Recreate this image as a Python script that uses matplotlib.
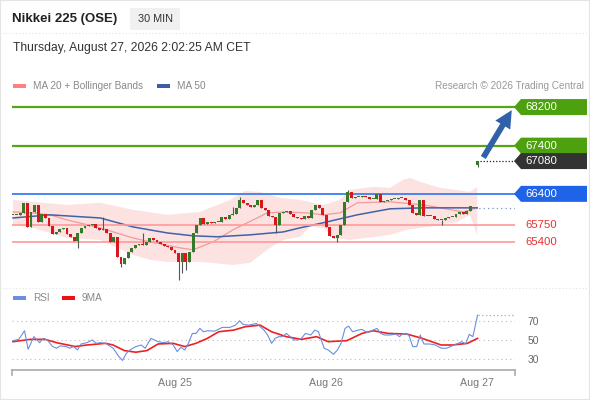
import numpy as np
import matplotlib.pyplot as plt
from matplotlib.patches import Polygon, Rectangle, FancyArrowPatch
from matplotlib.lines import Line2D

plt.rcParams['font.family'] = ['Liberation Sans', 'DejaVu Sans']

W, H = 590, 400

# 30 min candles, index = bar slot (slot 128 is empty, the gap before the last bar)
closes = [
    65965, 65965, 66005, 66215, 65715, 66025, 66170, 65820, 65985, 65900,
    65735, 65570, 65610, 65675, 65695, 65570, 65510, 65425, 65590, 65695,
    65735, 65755, 65780, 65695, 65655, 65675, 65590, 65405, 65510, 65095,
    64945, 65070, 65195, 65280, 65340, 65365, 65340, 65405, 65485, 65445,
    65405, 65365, 65320, 65300, 65240, 65175, 64990, 65175, 64990, 65195,
    65590, 65755, 65900, 65780, 65820, 65800, 65820, 65820, 65925, 65880,
    65965, 65985, 66110, 66275, 66215, 66170, 66130, 66170, 66275, 66110,
    66070, 65945, 65925, 65755, 66005, 66025, 66045, 65985, 65925, 65900,
    65880, 65945, 65900, 66070, 66170, 66110, 65965, 65715, 65530, 65485,
    65550, 65755, 66235, 66440, 66315, 66340, 66340, 66360, 66340, 66295,
    66295, 66400, 66235, 66255, 66275, 66295, 66295, 66315, 66315, 66275,
    66170, 66005, 65965, 66275, 65945, 65945, 65945, 65880, 65860, 65860,
    65900, 65925, 65925, 65985, 66025, 65985, 66045, 66150,
]
first_open = 65960
last_bar = dict(i=129, o=67000, h=67090, l=66950, c=67080)
long_highs = {25: 65925, 36: 65590, 61: 66130, 63: 66340, 93: 66485}
long_lows = {18: 65280, 30: 64885, 46: 64615, 47: 64760, 48: 64825,
             73: 65590, 90: 65405, 119: 65755}

# indicators, read as (bar index, value)
ma50_i = [0, 10.3, 24.2, 33.3, 42.8, 50, 56.7, 65.8, 75, 79.7, 86.1, 95.6, 104.7, 113.9, 123.3, 128.9]
ma50_v = [65900, 65965, 65900, 65715, 65590, 65530, 65510, 65550, 65610, 65695, 65800, 65965,
          66090, 66110, 66110, 66110]
ma20_i = [0, 5.6, 10.3, 15, 24.2, 33.3, 38.1, 46.4, 50, 55.6, 61.1, 66.7, 70.6, 75, 81.7, 86.1,
          90.8, 95.6, 104.7, 113.9, 118.6, 125, 128.9]
ma20_v = [66025, 66005, 65965, 65860, 65695, 65485, 65405, 65280, 65240, 65405, 65655, 65860,
          66005, 66025, 66005, 65965, 66005, 66215, 66235, 66170, 66110, 66025, 66110]
bb_up_i = [0, 5.6, 15, 24.2, 33.3, 42.8, 51.9, 60.3, 64.4, 68.6, 74.2, 79.7, 86.1, 90.8, 93.6,
           100, 104.7, 108.3, 110.3, 113.9, 118.6, 126.9, 128.9]
bb_up_v = [66275, 66235, 66170, 66215, 66070, 65965, 66025, 66275, 66460, 66440, 66315, 66275,
           66170, 66275, 66485, 66545, 66525, 66690, 66730, 66630, 66525, 66440, 66545]
bb_lo_i = [0, 5.6, 15, 24.2, 33.3, 38.1, 42.8, 51.9, 61.1, 65.8, 70.6, 75, 79.7, 82.5, 86.1,
           88.9, 93.6, 104.7, 109.4, 118.6, 123.3, 126.9, 128.9]
bb_lo_v = [65755, 65695, 65485, 65445, 65135, 65030, 64990, 64990, 64925, 64970, 65240, 65445,
           65510, 65715, 65695, 65485, 65445, 65550, 65655, 65755, 65820, 65965, 65550]
ma50_tail = 66110

rsi_i = [0, 1.6, 3.2, 4.2, 5.8, 7.4, 8.4, 9.5, 11, 12.1, 13.1, 14.7, 15.8, 16.8, 17.9, 18.9,
         20.5, 22, 23.1, 24.1, 25.7, 27.8, 29.4, 30.4, 31.5, 32.5, 34.1, 35.6, 36.7, 38.3, 39.3,
         40.3, 41.9, 43, 44.5, 45.6, 46.6, 47.7, 48.7, 49.8, 50.8, 51.9, 52.9, 54, 56, 58.1,
         60.2, 61.8, 62.9, 63.9, 65.5, 67.6, 69.7, 70.7, 71.8, 72.8, 73.8, 74.9, 75.9, 77, 78,
         79.1, 80.1, 81.2, 82.7, 83.8, 84.8, 86.4, 87.5, 89, 90.1, 91.1, 92.2, 93.2, 94.3, 95.8,
         96.9, 98.4, 100, 101.1, 102.1, 103.2, 104.7, 106.3, 107.3, 108.4, 109.9, 111, 112.1,
         113.1, 114.1, 115.7, 117.3, 118.9, 120.4, 121.5, 122.5, 123.6, 124.6, 125.7, 126.7,
         127.7, 129]
rsi_v = [49.3, 50.7, 60.0, 40.0, 53.6, 47.1, 51.8, 50.0, 42.9, 41.1, 43.6, 42.9, 41.1, 42.9,
         39.3, 45.7, 47.1, 50.0, 46.4, 47.1, 46.4, 41.1, 32.1, 27.9, 35.7, 39.3, 42.9, 44.6,
         41.1, 51.8, 50.0, 48.2, 47.1, 48.2, 44.6, 37.5, 42.1, 39.3, 46.4, 57.1, 57.1, 62.5,
         58.9, 60.0, 59.6, 63.6, 63.6, 66.1, 70.7, 66.8, 66.1, 67.9, 60.7, 55.4, 46.4, 51.8,
         53.6, 53.6, 57.1, 53.6, 50.0, 50.0, 51.8, 57.1, 55.4, 60.7, 58.9, 41.1, 39.3, 34.6,
         39.3, 46.4, 62.5, 65.0, 58.9, 60.7, 61.4, 57.9, 60.7, 62.5, 57.1, 55.4, 55.4, 56.4,
         53.6, 57.1, 55.4, 42.9, 42.9, 55.4, 45.7, 45.7, 44.6, 41.1, 41.1, 42.9, 44.6, 46.4,
         48.2, 45.7, 56.1, 53.6, 76.8]
ma9_i = [0, 4.8, 8.9, 12.1, 17.3, 20.5, 25.7, 27.8, 30.9, 34.1, 37.2, 40.3, 44.5, 47.7, 50.8,
         54, 57.1, 61.3, 64.4, 68.6, 71.8, 75.9, 80.1, 84.3, 87.5, 92.7, 96.9, 100, 104.2, 109.4,
         113.6, 118.9, 122, 126.2, 129]
ma9_v = [48.2, 50.7, 50.7, 47.1, 42.9, 44.6, 46.4, 44.6, 38.6, 36.8, 38.6, 45.7, 46.4, 42.9,
         46.4, 51.8, 58.9, 60.7, 64.3, 66.1, 58.9, 53.6, 50.7, 53.6, 48.2, 49.3, 57.1, 60.0,
         57.1, 56.4, 51.8, 44.6, 44.6, 46.4, 51.8]

resistances = [68200, 67400]
pivot = 66400
supports = [65750, 65400]
target = 68200
day_ticks = [45, 86.9, 128.9]
day_labels = ['Aug 25', 'Aug 26', 'Aug 27']

GREEN, RED = '#357a2a', '#d9161c'


def fx(px):
    return px / W


def fy(py):
    return 1 - py / H


fig = plt.figure(figsize=(W / 100, H / 100), dpi=100)
fig.patch.set_facecolor('white')

ax = fig.add_axes([fx(12), fy(285), fx(503), (285 - 95) / H])
ax.set_xlim(-0.28, 139.4)
ax.set_ylim(64510, 68450)
ax.axis('off')

# bollinger envelope + moving averages
ax.fill(np.r_[bb_up_i, bb_lo_i[::-1]], np.r_[bb_up_v, bb_lo_v[::-1]],
        color='#fde2e2', lw=0, zorder=1)
ax.plot(ma20_i, ma20_v, color='#f39a9a', lw=0.9, zorder=2)
ax.plot(ma50_i, ma50_v, color='#3f63a8', lw=1.1, zorder=2)
ax.plot([127, 139.4], [ma50_tail] * 2, color='#7f95c4', lw=0.9, ls=(0, (1, 2.5)), zorder=2)

# levels
for r in resistances:
    ax.axhline(r, color='#56a514', lw=1.6, zorder=2)
ax.axhline(pivot, color='#4a86f0', lw=1.4, zorder=2)
for s in supports:
    ax.axhline(s, color='#ff9a9a', lw=1.2, zorder=2)

# candles
idx = np.arange(len(closes))
c = np.array(closes, float)
o = np.r_[first_open, c[:-1]]
hi = np.maximum(o, c)
lo = np.minimum(o, c)
for k, v in long_highs.items():
    hi[k] = v
for k, v in long_lows.items():
    lo[k] = v
idx = np.r_[idx, last_bar['i']]
o = np.r_[o, last_bar['o']]
c = np.r_[c, last_bar['c']]
hi = np.r_[hi, last_bar['h']]
lo = np.r_[lo, last_bar['l']]
up = c >= o
ax.vlines(idx, lo, hi, color='#555555', lw=0.8, zorder=3)
body_h = np.maximum(np.abs(c - o), 16)
ax.bar(idx[up], body_h[up], bottom=np.minimum(o, c)[up], width=0.8, color=GREEN, lw=0, zorder=4)
ax.bar(idx[~up], body_h[~up], bottom=np.minimum(o, c)[~up], width=0.8, color=RED, lw=0, zorder=4)

ax.plot([last_bar['i'] + 0.6, 139.4], [last_bar['c']] * 2, color='#222222', lw=0.9,
        ls=(0, (1, 1.5)), zorder=3)

arrow = FancyArrowPatch((130.2, 67105), (138.9, target - 15),
                        arrowstyle='simple,head_width=1.25,head_length=1.25,tail_width=0.42',
                        mutation_scale=10, color='#2f62a8', lw=0, zorder=6, clip_on=False)
ax.add_patch(arrow)


def tag(price, text, face):
    yc = fig.transFigure.inverted().transform(ax.transData.transform((0, price)))[1]
    h = 8 / H
    pts = [(fx(514), yc), (fx(521), yc + h), (fx(587), yc + h), (fx(587), yc - h), (fx(521), yc - h)]
    fig.add_artist(Polygon(pts, closed=True, transform=fig.transFigure, facecolor=face, edgecolor='none'))
    fig.text(fx(525), yc, text, color='white', fontsize=8.2, va='center', ha='left')


for r in resistances:
    tag(r, str(r), '#4ea10e')
tag(pivot, str(pivot), '#1f64e8')
tag(last_bar['c'], str(last_bar['c']), '#333333')
for s in supports:
    yc = fig.transFigure.inverted().transform(ax.transData.transform((0, s)))[1]
    fig.text(fx(525), yc, str(s), color='#e83030', fontsize=8.2, va='center', ha='left')

# RSI panel
ax2 = fig.add_axes([fx(12), fy(370), fx(503), (370 - 305) / H])
ax2.set_xlim(-0.28, 139.4)
ax2.set_ylim(17.6, 87.8)
for g in [30, 50, 70]:
    ax2.axhline(g, color='#bbbbbb', lw=0.8, ls=(0, (1, 3)), zorder=1)
ax2.plot(ma9_i, ma9_v, color='#ee2020', lw=1.2, zorder=3)
ax2.plot(rsi_i, rsi_v, color='#6a8ee0', lw=0.8, zorder=4)
ax2.plot([129, 139.4], [rsi_v[-1]] * 2, color='#8fa8e6', lw=0.9, ls=(0, (1, 2)), zorder=2)
for side in ['top', 'left', 'right']:
    ax2.spines[side].set_visible(False)
ax2.spines['bottom'].set_color('#aaaaaa')
ax2.spines['bottom'].set_linewidth(1.2)
ax2.yaxis.tick_right()
ax2.set_yticks([30, 50, 70])
ax2.tick_params(axis='y', length=0, pad=9, labelsize=7.5, labelcolor='#666666')
ax2.set_xticks(day_ticks)
ax2.set_xticklabels(day_labels)
ax2.tick_params(axis='x', length=0, pad=6, labelsize=7.7, labelcolor='#777777')
for px in [12, 515]:
    fig.add_artist(Line2D([fx(px)] * 2, [fy(370), fy(375)], color='#aaaaaa', lw=1.2))

# header
fig.text(fx(12), fy(19), 'Nikkei 225 (OSE)', fontsize=9.5, fontweight='bold', color='#222222', va='center')
fig.add_artist(Rectangle((fx(130), fy(30)), fx(50), 22 / H, transform=fig.transFigure,
                         facecolor='#f0f0f0', edgecolor='none'))
fig.text(fx(155), fy(19), '30 MIN', fontsize=7.8, color='#333333', va='center', ha='center')
fig.text(fx(13), fy(48), 'Thursday, August 27, 2026 2:02:25 AM CET', fontsize=8.7,
         color='#333333', va='center')
fig.add_artist(Line2D([fx(2), fx(588)], [fy(33)] * 2, color='#e2e2e2', lw=0.8, ls=(0, (1, 2))))
fig.add_artist(Line2D([fx(2), fx(588)], [fy(288)] * 2, color='#e2e2e2', lw=0.8, ls=(0, (1, 2))))

# legends
def swatch(px, py, color, label):
    fig.add_artist(Rectangle((fx(px), fy(py + 2)), fx(13), 4 / H, transform=fig.transFigure,
                             facecolor=color, edgecolor='none'))
    fig.text(fx(px + 20), fy(py), label, fontsize=7.2, color='#888888', va='center')


swatch(13, 86, '#ff8080', 'MA 20 + Bollinger Bands')
swatch(157, 86, '#3d5ea6', 'MA 50')
swatch(13, 298, '#6a8ee0', 'RSI')
swatch(62, 298, '#ee1111', '9MA')
fig.text(fx(584), fy(86), 'Research \u00a9 2026 Trading Central', fontsize=7.2, color='#999999',
         va='center', ha='right')

fig.add_artist(Rectangle((0, 0), 1, 1, transform=fig.transFigure, fill=False,
                         edgecolor='#e4e4e4', lw=1.5))

fig.savefig('out.png', dpi=100)
